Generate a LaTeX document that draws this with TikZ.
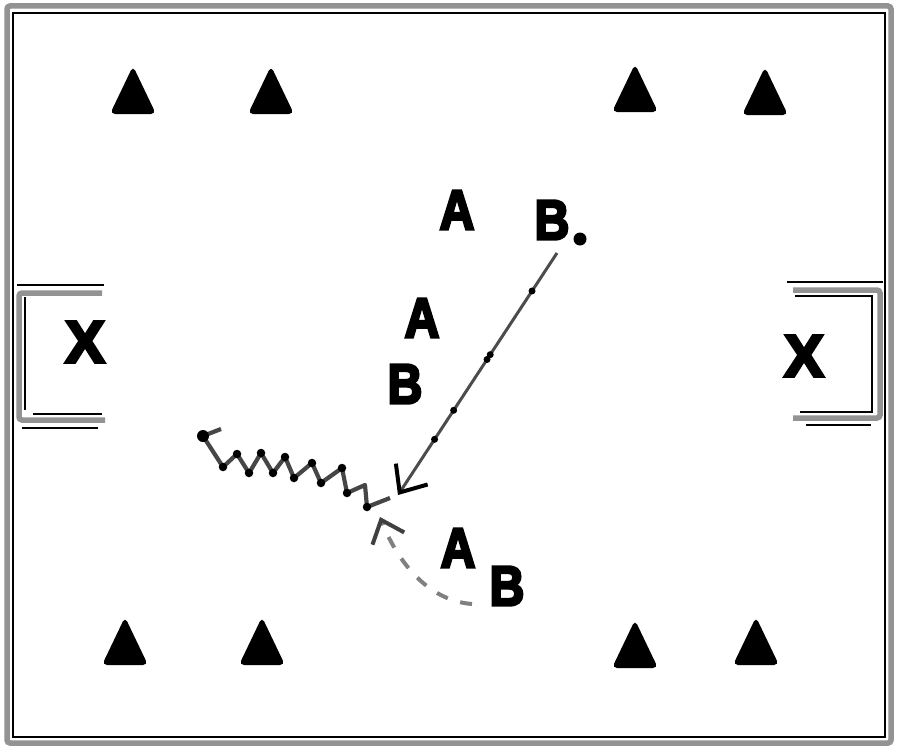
\documentclass[tikz,border=0pt]{standalone}
\usepackage{fontspec}
\setmainfont{Liberation Sans}
\newfontfamily\heavy[FakeBold=5]{Liberation Sans Bold}
\usetikzlibrary{arrows.meta,calc}
\begin{document}
\begin{tikzpicture}[x=1pt,y=-1pt,
  frameline/.style={draw=gray!85, line width=5.5pt, rounded corners=3pt},
  thinline/.style={draw=black, line width=1.4pt},
  cone/.style={fill=black, rounded corners=5pt},
  player/.style={inner sep=0pt, font=\fontsize{56}{56}\heavy},
  goalx/.style={inner sep=0pt, font=\fontsize{59}{59}\heavy},
  passline/.style={draw=gray!60!black, line width=3pt,
    -{Straight Barb[length=22pt,width=38pt,line width=4pt,color=black]}},
  dribline/.style={draw=gray!55!black, line width=4.2pt, line join=round},
  runline/.style={draw=gray, line width=4pt, dash pattern=on 12pt off 13pt,
    -{Straight Barb[length=20pt,width=34pt,line width=4pt,color=gray!50!black]}},
  dotmark/.style={circle, fill=black, inner sep=0pt, minimum size=#1}
]
\useasboundingbox (0,0) rectangle (900,752);
\fill[white] (0,0) rectangle (900,752);

% field frame
\draw[frameline] (7,6) rectangle (891,743);
\draw[thinline] (13,13) rectangle (885,737);

% goals
\draw[frameline] (102,293) -- (19,293) -- (19,420) -- (105,420);
\draw[thinline] (17,285) -- (104,285);
\draw[thinline] (25,297) -- (25,410);
\draw[thinline] (33,414) -- (102,414);
\draw[thinline] (22,428) -- (98,428);
\draw[frameline] (793,290) -- (880,290) -- (880,418) -- (793,418);
\draw[thinline] (787,282) -- (883,282);
\draw[thinline] (795,296) -- (872,296) -- (872,412) -- (800,412);
\draw[thinline] (806,425) -- (871,425);

\node[goalx] (xl) at (85,342) {X};
\node[goalx] (xr) at (804,356) {X};

% cones
\foreach \cx/\cy in {133/91, 271/91, 635/89, 765/92, 125/642, 262/642, 635/645, 756/642}{
  \fill[cone] (\cx,\cy-25) -- (\cx+23,\cy+23) -- (\cx-23,\cy+23) -- cycle;
}

% players
\node[player] (a1) at (457,210) {\scalebox{0.86}[1]{A}};
\node[player] (b1) at (552,220) {\scalebox{0.86}[1]{B}};
\node[dotmark=13pt] (b1dot) at (580,239) {};
\node[player] (a2) at (422,318) {\scalebox{0.86}[1]{A}};
\node[player] (b2) at (405,384) {\scalebox{0.86}[1]{B}};
\node[player] (a3) at (458,548) {\scalebox{0.86}[1]{A}};
\node[player] (b3) at (507,586) {\scalebox{0.86}[1]{B}};

% pass from B.
\coordinate (ps) at (557,253);
\coordinate (pe) at (398,495);
\draw[passline] (ps) -- (pe);
\foreach \t in {0.157,0.42,0.44,0.65,0.77}{
  \node[dotmark=7pt] at ($(ps)!\t!(pe)$) {};
}

% dribble
\coordinate (ds) at (390,498);
\coordinate (dt) at (203,436);
\coordinate (dw) at (221,429);
\draw[dribline] (ds) -- (367,507) -- (365,485) -- (347,493) -- (342,468) -- (321,483)
  -- (312,463) -- (294,478) -- (285,457) -- (273,473) -- (261,453) -- (249,473)
  -- (237,454) -- (223,467) -- (dt) -- (dw);
\foreach \p in {(367,507),(347,493),(342,468),(321,483),(312,463),(294,478),(285,457),
  (273,473),(261,453),(249,473),(237,454),(223,467)}{
  \node[dotmark=8.5pt] at \p {};
}
\node[dotmark=12pt] (dtip) at (dt) {};

% run of B
\coordinate (rs) at (472,604);
\coordinate (re) at (380,517);
\draw[runline] (rs) .. controls (420,600) and (392,548) .. (re);

\end{tikzpicture}
\end{document}
